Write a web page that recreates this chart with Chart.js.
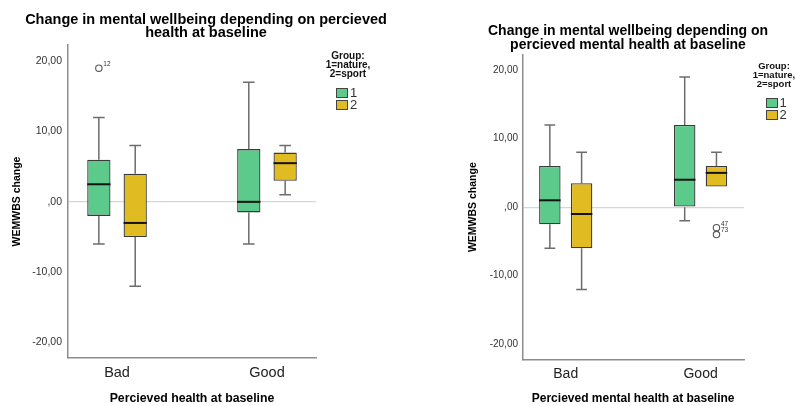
<!DOCTYPE html>
<html>
<head>
<meta charset="utf-8">
<title>WEMWBS change boxplots</title>
<script src="https://cdn.jsdelivr.net/npm/chart.js@4.4.1/dist/chart.umd.min.js"></script>
<style>
  body { margin: 0; background: #fff; }
  #wrap { position: relative; width: 796px; height: 406px; overflow: hidden; font-family: 'Liberation Sans', Arial, sans-serif; background: #fff; }
  canvas { position: absolute; top: 0; }
  #healthChart { left: 0; }
  #mentalChart { left: 400px; }
  .title { position: absolute; width: 400px; text-align: center; font-weight: bold; color: #000; white-space: nowrap; }
  .legend-head { position: absolute; width: 100px; text-align: center; font-weight: bold; color: #111; white-space: nowrap; }
  .swatch { position: absolute; border: 1px solid #444; box-sizing: border-box; }
  .swatch-label { position: absolute; font-size: 13px; line-height: 12px; color: #333; }
</style>
</head>
<body>
<div id="wrap">
  <canvas id="healthChart" width="400" height="406"></canvas>
  <canvas id="mentalChart" width="396" height="406"></canvas>
  <div class="title" style="left:6px; top:13px; font-size:14.5px; line-height:13px;">Change in mental wellbeing depending on percieved<br>health at baseline</div>
  <div class="title" style="left:428px; top:23px; font-size:14px; line-height:14px;">Change in mental wellbeing depending on<br>percieved mental health at baseline</div>
  <div id="healthLegend"></div>
  <div id="mentalLegend"></div>
</div>
<script>
// categories and ticks
const categories = ['Bad', 'Good'];
const groupLabels = ['1', '2'];
const legendTitle = ['Group:', '1=nature,', '2=sport'];
const yTicks = [-20, -10, 0, 10, 20];

// chart 1: percieved health at baseline
const healthNatureMin = [-6, -6];
const healthNatureQ1 = [-2, -1.5];
const healthNatureMedian = [2.5, 0];
const healthNatureQ3 = [6, 7.5];
const healthNatureMax = [12, 17];
const healthNatureOutliers = [[{ value: 19, id: '12' }], []];

const healthSportMin = [-12, 1];
const healthSportQ1 = [-5, 3];
const healthSportMedian = [-3, 5.5];
const healthSportQ3 = [4, 7];
const healthSportMax = [8, 8];
const healthSportOutliers = [[], []];

// chart 2: percieved mental health at baseline
const mentalNatureMin = [-6, -2];
const mentalNatureQ1 = [-2.5, 0];
const mentalNatureMedian = [1, 4];
const mentalNatureQ3 = [6, 12];
const mentalNatureMax = [12, 19];
const mentalNatureOutliers = [[], []];

const mentalSportMin = [-12, 3];
const mentalSportQ1 = [-6, 3];
const mentalSportMedian = [-1, 5];
const mentalSportQ3 = [3.5, 6];
const mentalSportMax = [8, 8];
const mentalSportOutliers = [[], [{ value: -3, id: '47' }, { value: -4, id: '73' }]];

const groupColors = ['#5bca8b', '#e1bb22'];
const axisColor = '#8d8d8d';
const fontFamily = "'Liberation Sans', Arial, sans-serif";

function boxDataset(label, color, min, q1, median, q3, max, outliers) {
  return {
    label: label,
    data: categories.map((c, i) => ({ x: i, y: [q1[i], q3[i]] })),
    backgroundColor: color,
    borderColor: '#3a3a3a',
    borderWidth: 1.3,
    borderSkipped: false,
    whiskerMin: min,
    whiskerMax: max,
    medianValues: median,
    outlierValues: outliers
  };
}

// whiskers under the boxes, medians and outliers on top
const boxPlotPlugin = {
  id: 'boxPlot',
  beforeDatasetsDraw(chart) {
    const ctx = chart.ctx;
    const yScale = chart.scales.y;
    chart.data.datasets.forEach((ds, d) => {
      chart.getDatasetMeta(d).data.forEach((bar, i) => {
        const ends = [[ds.data[i].y[1], ds.whiskerMax[i]], [ds.data[i].y[0], ds.whiskerMin[i]]];
        const cap = bar.width * 0.5;
        ctx.save();
        ctx.strokeStyle = '#6d6d6d';
        ctx.lineWidth = 1.5;
        ends.forEach(([boxEnd, whisker]) => {
          if (boxEnd === whisker) return;
          const y0 = yScale.getPixelForValue(boxEnd);
          const y1 = yScale.getPixelForValue(whisker);
          ctx.beginPath();
          ctx.moveTo(bar.x, y0);
          ctx.lineTo(bar.x, y1);
          ctx.moveTo(bar.x - cap / 2, y1);
          ctx.lineTo(bar.x + cap / 2, y1);
          ctx.stroke();
        });
        ctx.restore();
      });
    });
  },
  afterDatasetsDraw(chart) {
    const ctx = chart.ctx;
    const yScale = chart.scales.y;
    chart.data.datasets.forEach((ds, d) => {
      chart.getDatasetMeta(d).data.forEach((bar, i) => {
        const ym = yScale.getPixelForValue(ds.medianValues[i]);
        ctx.save();
        ctx.strokeStyle = '#141414';
        ctx.lineWidth = 2;
        ctx.beginPath();
        ctx.moveTo(bar.x - bar.width / 2, ym);
        ctx.lineTo(bar.x + bar.width / 2, ym);
        ctx.stroke();

        ds.outlierValues[i].forEach(o => {
          const yo = yScale.getPixelForValue(o.value);
          ctx.strokeStyle = '#555';
          ctx.lineWidth = 1.1;
          ctx.beginPath();
          ctx.arc(bar.x, yo, 3.2, 0, Math.PI * 2);
          ctx.stroke();
          ctx.fillStyle = '#333';
          ctx.font = '6.5px ' + fontFamily;
          ctx.textAlign = 'left';
          ctx.textBaseline = 'middle';
          ctx.fillText(o.id, bar.x + 4.5, yo - 4);
        });
        ctx.restore();
      });
    });
  }
};

function makeChart(id, datasets, o) {
  return new Chart(document.getElementById(id), {
    type: 'bar',
    data: { datasets: datasets },
    options: {
      responsive: false,
      animation: false,
      layout: { padding: o.padding },
      datasets: { bar: { categoryPercentage: o.cp, barPercentage: o.bp } },
      plugins: {
        legend: { display: false },
        title: { display: false },
        tooltip: { enabled: false }
      },
      scales: {
        x: {
          type: 'linear',
          min: o.xMin,
          max: o.xMax,
          offset: false,
          grid: { display: false, drawTicks: false },
          border: { display: true, color: axisColor, width: 1.5 },
          afterBuildTicks: s => { s.ticks = categories.map((c, i) => ({ value: i })); },
          afterFit: s => { s.height = o.xAxisHeight; },
          ticks: {
            callback: v => categories[v],
            autoSkip: false,
            maxRotation: 0,
            padding: 6,
            color: '#222',
            font: { family: fontFamily, size: o.catFont }
          },
          title: {
            display: true,
            text: o.xTitle,
            color: '#000',
            padding: { top: 0, bottom: 0 },
            font: { family: fontFamily, size: o.axisTitleFont, weight: 'bold' }
          }
        },
        y: {
          min: o.yMin,
          max: o.yMax,
          grid: {
            drawTicks: false,
            lineWidth: 1.2,
            color: c => (c.tick && c.tick.value === 0 ? '#d6d6d6' : 'rgba(0,0,0,0)')
          },
          border: { display: true, color: axisColor, width: 1.5 },
          afterBuildTicks: s => { s.ticks = yTicks.map(v => ({ value: v })); },
          afterFit: s => { s.width = o.yAxisWidth; },
          ticks: {
            callback: v => (v === 0 ? ',00' : v.toFixed(2).replace('.', ',')),
            padding: o.yTickPad,
            color: '#333',
            font: { family: fontFamily, size: o.tickFont }
          },
          title: {
            display: true,
            text: 'WEMWBS change',
            color: '#000',
            padding: { top: o.yTitlePad, bottom: 0 },
            font: { family: fontFamily, size: 10.5, weight: 'bold' }
          }
        }
      }
    },
    plugins: [boxPlotPlugin]
  });
}

function makeLegend(id, cx, top, fontSize, lineH, swLeft, swTop, swW, swH, gap) {
  const box = document.getElementById(id);
  const head = document.createElement('div');
  head.className = 'legend-head';
  head.style.left = (cx - 50) + 'px';
  head.style.top = top + 'px';
  head.style.fontSize = fontSize + 'px';
  head.style.lineHeight = lineH + 'px';
  head.innerHTML = legendTitle.join('<br>');
  box.appendChild(head);
  groupLabels.forEach((g, k) => {
    const sw = document.createElement('div');
    sw.className = 'swatch';
    sw.style.left = swLeft + 'px';
    sw.style.top = (swTop + k * (swH + gap)) + 'px';
    sw.style.width = swW + 'px';
    sw.style.height = swH + 'px';
    sw.style.background = groupColors[k];
    box.appendChild(sw);
    const lab = document.createElement('div');
    lab.className = 'swatch-label';
    lab.style.left = (swLeft + swW + 2) + 'px';
    lab.style.top = (swTop + k * (swH + gap) - 1) + 'px';
    lab.textContent = g;
    box.appendChild(lab);
  });
}

makeChart('healthChart', [
  boxDataset(groupLabels[0], groupColors[0], healthNatureMin, healthNatureQ1, healthNatureMedian, healthNatureQ3, healthNatureMax, healthNatureOutliers),
  boxDataset(groupLabels[1], groupColors[1], healthSportMin, healthSportQ1, healthSportMedian, healthSportQ3, healthSportMax, healthSportOutliers)
], {
  padding: { top: 45, right: 84, left: 0, bottom: 0 },
  xMin: -0.327, xMax: 1.327, yMin: -22.2, yMax: 22.3,
  cp: 0.485, bp: 0.64,
  xAxisHeight: 48, yAxisWidth: 68, yTickPad: 6, yTitlePad: 10.4,
  catFont: 14.5, tickFont: 10.5, axisTitleFont: 12.3,
  xTitle: 'Percieved health at baseline'
});

makeChart('mentalChart', [
  boxDataset(groupLabels[0], groupColors[0], mentalNatureMin, mentalNatureQ1, mentalNatureMedian, mentalNatureQ3, mentalNatureMax, mentalNatureOutliers),
  boxDataset(groupLabels[1], groupColors[1], mentalSportMin, mentalSportQ1, mentalSportMedian, mentalSportQ3, mentalSportMax, mentalSportOutliers)
], {
  padding: { top: 55, right: 52, left: 0, bottom: 0 },
  xMin: -0.322, xMax: 1.322, yMin: -22.2, yMax: 22.2,
  cp: 0.471, bp: 0.676,
  xAxisHeight: 46.7, yAxisWidth: 122.3, yTickPad: 4.3, yTitlePad: 67,
  catFont: 14, tickFont: 10, axisTitleFont: 12,
  xTitle: 'Percieved mental health at baseline'
});

makeLegend('healthLegend', 348, 51, 10, 9.2, 336, 88, 12, 10, 2);
makeLegend('mentalLegend', 774, 60.5, 9.5, 9, 766, 98, 11.5, 10, 2);
</script>
</body>
</html>
